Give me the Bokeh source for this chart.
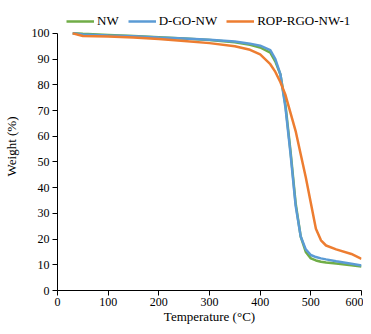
from bokeh.plotting import figure
from bokeh.models import Legend, LegendItem, FixedTicker, Range1d
from bokeh.embed import file_html
from bokeh.resources import INLINE

temperature = [30, 50, 100, 150, 200, 250, 300, 350, 380, 400, 420, 430, 440, 450, 460, 470, 480, 490, 500, 510, 520, 530, 550, 580, 600]
nw = [100, 99.8, 99.4, 99.0, 98.5, 98.0, 97.4, 96.5, 95.6, 94.5, 92.5, 89, 84, 72, 54, 34, 21, 15, 12.5, 11.7, 11.2, 10.9, 10.5, 9.8, 9.3]
dgo_nw = [100, 99.6, 99.2, 98.9, 98.4, 98.0, 97.5, 96.8, 96.0, 95.2, 93.5, 90, 84, 71, 53, 33, 21, 16, 13.8, 13.0, 12.5, 12.1, 11.4, 10.4, 9.7]
rop_rgo_nw = [100, 99.0, 98.8, 98.4, 97.8, 97.0, 96.2, 95.0, 93.6, 91.8, 88, 85, 81, 76, 69, 62, 53, 44, 34, 24, 19.5, 17.5, 16.0, 14.2, 12.3]
series_names = ["NW", "D-GO-NW", "ROP-RGO-NW-1"]
colors = ["#70AD47", "#5B9BD5", "#ED7D31"]
x_ticks = [0, 100, 200, 300, 400, 500, 600]
y_ticks = [0, 10, 20, 30, 40, 50, 60, 70, 80, 90, 100]

FONT = "Liberation Serif"

p = figure(width=363, height=326, output_backend="svg", toolbar_location=None,
           x_range=Range1d(0, 600), y_range=Range1d(0, 112),
           min_border_left=57, min_border_right=2, min_border_top=2, min_border_bottom=36)
p.outline_line_color = None
p.xgrid.visible = False
p.ygrid.visible = False

renderers = []
for ys, c in zip([nw, dgo_nw, rop_rgo_nw], colors):
    r = p.line(temperature, ys, line_color=c, line_width=2.5)
    renderers.append(r)

for ax in (p.xaxis[0], p.yaxis[0]):
    ax.major_label_text_font = FONT
    ax.major_label_text_font_size = "12px"
    ax.major_label_text_color = "#000000"
    ax.axis_label_text_font = FONT
    ax.axis_label_text_font_size = "13px"
    ax.axis_label_text_font_style = "normal"
    ax.axis_label_text_color = "#000000"
    ax.axis_line_color = "#000000"
    ax.major_tick_line_color = "#000000"
    ax.major_tick_out = 5
    ax.major_tick_in = 0
    ax.minor_tick_line_color = None
    ax.major_label_standoff = 3

p.xaxis[0].ticker = FixedTicker(ticks=x_ticks)
p.yaxis[0].ticker = FixedTicker(ticks=y_ticks)
p.yaxis[0].bounds = (0, 100)
p.xaxis[0].axis_label = "Temperature (°C)"
p.yaxis[0].axis_label = "Weight (%)"
p.xaxis[0].major_label_standoff = 2
p.xaxis[0].axis_label_standoff = 0
p.yaxis[0].axis_label_standoff = 10

legend = Legend(items=[LegendItem(label=n, renderers=[r]) for n, r in zip(series_names, renderers)],
                orientation="horizontal", location="top_left")
legend.label_text_font = FONT
legend.label_text_font_size = "13px"
legend.label_text_color = "#000000"
legend.border_line_color = None
legend.background_fill_alpha = 0
legend.glyph_width = 28
legend.spacing = 9
legend.label_standoff = 3
legend.padding = 1
legend.margin = 9
p.add_layout(legend)

open("out.html", "w").write(file_html(p, INLINE))
